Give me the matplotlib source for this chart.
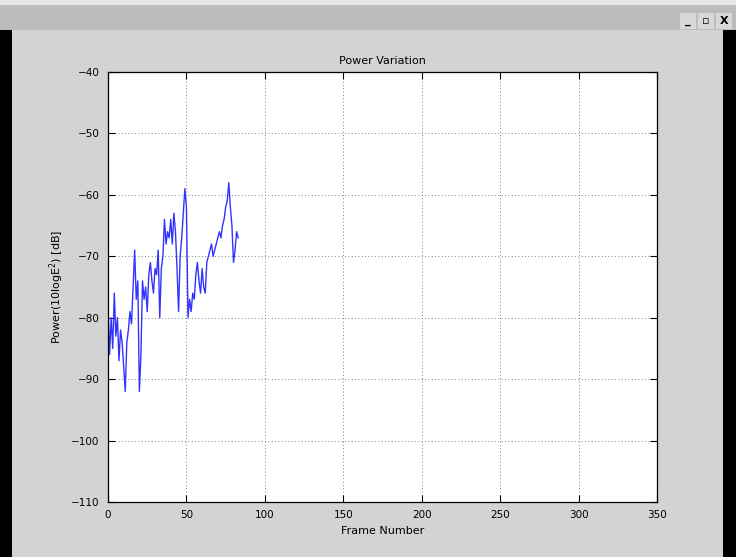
import numpy as np
import matplotlib.pyplot as plt
from matplotlib.patches import Rectangle

# 프레임별 전력 값
frames = list(range(84))
power_db = [-78, -86, -80, -85, -76, -83, -80, -87, -82, -84,
            -88, -92, -84, -82, -79, -81, -75, -69, -77, -74,
            -92, -86, -74, -77, -75, -79, -73, -71, -74, -76,
            -72, -73, -69, -80, -72, -70, -64, -68, -66, -67,
            -64, -68, -63, -66, -72, -79, -70, -67, -63, -59,
            -62, -80, -77, -79, -76, -77, -73, -71, -74, -76,
            -72, -75, -76, -71, -70, -69, -68, -70, -69, -68,
            -67, -66, -67, -65, -64, -62, -61, -58, -62, -65,
            -71, -69, -66, -67]
x_ticks = [0, 50, 100, 150, 200, 250, 300, 350]
y_ticks = [-110, -100, -90, -80, -70, -60, -50, -40]

W, H = 736, 557
fig = plt.figure(figsize=(W / 100, H / 100), dpi=100, facecolor='#d3d3d3')

def px_rect(x0, y0, x1, y1, color, z=0):
    fig.patches.append(Rectangle((x0 / W, 1 - y1 / H), (x1 - x0) / W, (y1 - y0) / H,
                                 transform=fig.transFigure, facecolor=color,
                                 edgecolor='none', zorder=z))

# 창 테두리 흉내
px_rect(0, 0, W, 5, '#e6e6e6')
px_rect(0, 5, W, 30, '#bcbcbc')
px_rect(0, 30, 12, H, 'black')
px_rect(723, 30, W, H, 'black')
for bx, lab in [(680, '_'), (698, '\u25AB'), (716, 'X')]:
    px_rect(bx, 13, bx + 16, 29, '#d8d8d8', z=1)
    fig.text((bx + 8) / W, 1 - 21 / H, lab, ha='center', va='center',
             fontsize=8, fontweight='bold', color='black')

ax = fig.add_axes([108 / W, 1 - 502 / H, (657 - 108) / W, (502 - 72) / H])
ax.set_facecolor('white')
ax.plot(frames, power_db, color=(0.2, 0.2, 1.0), linewidth=1.0)

ax.set_xlim(0, 350)
ax.set_ylim(-110, -40)
ax.set_xticks(x_ticks)
ax.set_yticks(y_ticks)
ax.tick_params(direction='in', length=5, width=0.8, top=True, right=True,
               labelsize=7.5, pad=6)
ax.grid(True, linestyle=(0, (1, 3)), color='#555555', linewidth=0.6)
for s in ax.spines.values():
    s.set_linewidth(0.9)

ax.set_title('Power Variation', fontsize=8, pad=6)
ax.set_xlabel('Frame Number', fontsize=8, labelpad=4)
ax.set_ylabel('Power(10logE$^{2}$) [dB]', fontsize=8, labelpad=4)

plt.savefig('out.png', dpi=100, facecolor=fig.get_facecolor())
